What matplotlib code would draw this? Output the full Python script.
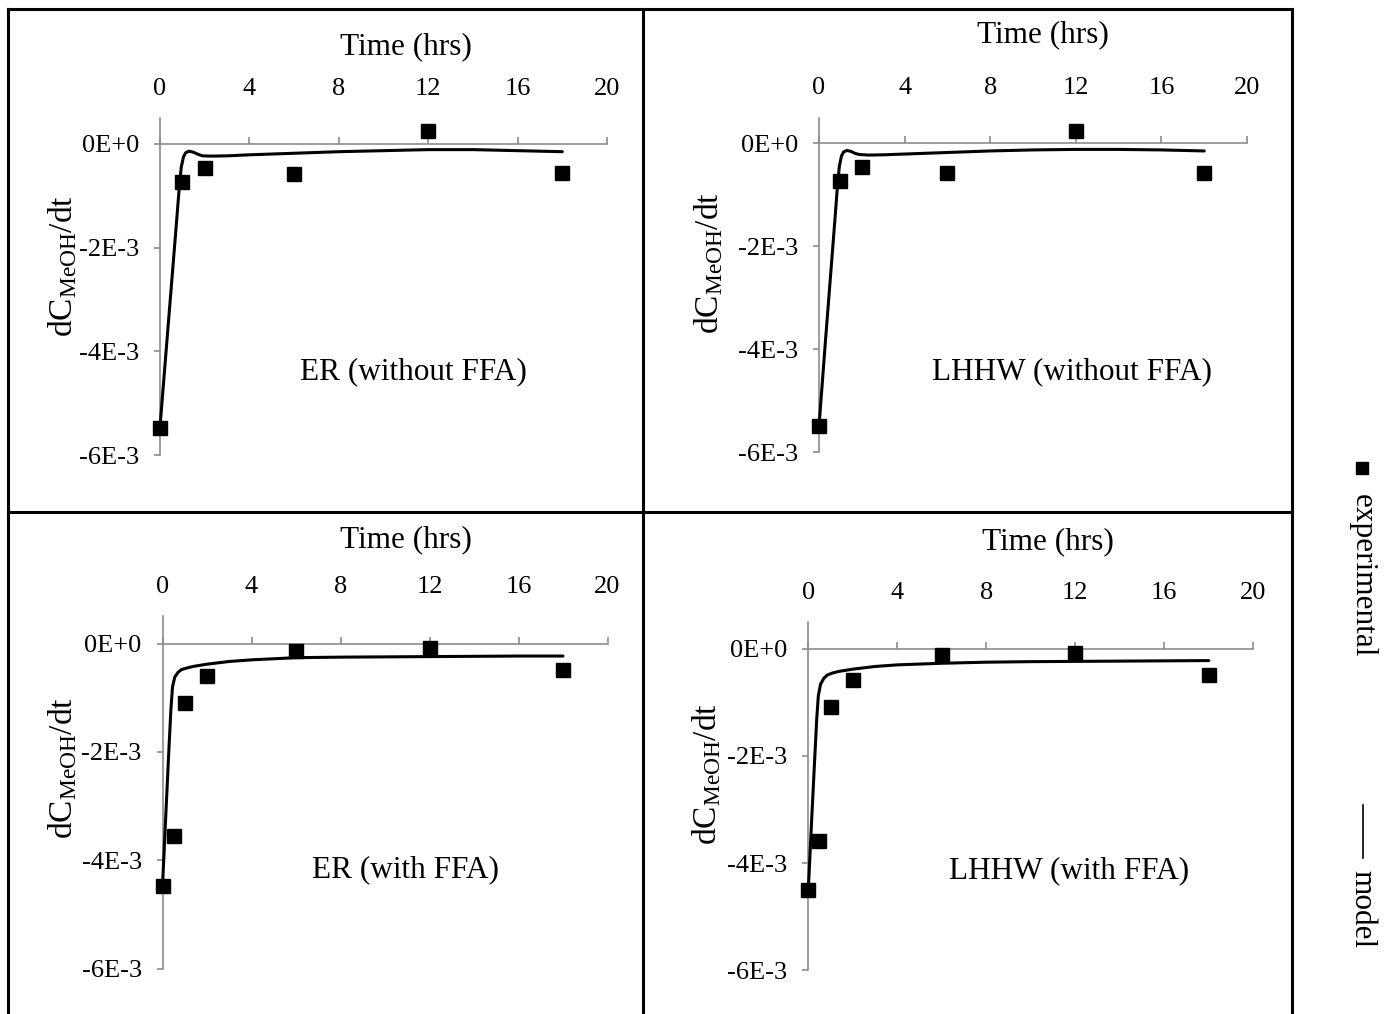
import matplotlib
matplotlib.use("Agg")
import matplotlib.pyplot as plt
from matplotlib.lines import Line2D

plt.rcParams["font.family"] = ["Liberation Serif", "DejaVu Serif"]
plt.rcParams["mathtext.fontset"] = "custom"
plt.rcParams["mathtext.rm"] = "Liberation Serif"
plt.rcParams["mathtext.it"] = "Liberation Serif:italic"

# === Data (rates in 1e-3 units) ===
t_nf = [0, 1, 2, 6, 12, 18]
exp_er_nf = [-5.47, -0.74, -0.47, -0.58, 0.24, -0.57]
exp_lh_nf = [-5.50, -0.73, -0.47, -0.57, 0.23, -0.57]

t_wf = [0, 0.5, 1, 2, 6, 12, 18]
exp_er_wf = [-4.48, -3.56, -1.09, -0.60, -0.13, -0.09, -0.48]
exp_lh_wf = [-4.50, -3.59, -1.09, -0.58, -0.12, -0.08, -0.49]

tm_nf = [0, 0.3, 0.6, 0.75, 0.85, 0.95, 1.05, 1.15, 1.3, 1.5, 1.7, 1.9,
         2.3, 3, 4, 6, 8, 10, 12, 14, 16, 18]
mod_er_nf = [-5.46, -3.85, -2.25, -1.45, -0.9, -0.45, -0.25, -0.17, -0.14, -0.16,
             -0.20, -0.23, -0.235, -0.23, -0.21, -0.18, -0.15, -0.13, -0.11, -0.11,
             -0.13, -0.15]
mod_lh_nf = [-5.50, -3.85, -2.25, -1.45, -0.9, -0.45, -0.25, -0.17, -0.14, -0.16,
             -0.20, -0.22, -0.23, -0.225, -0.21, -0.18, -0.15, -0.13, -0.12, -0.12,
             -0.13, -0.15]

tm_wf = [0, 0.15, 0.3, 0.38, 0.45, 0.55, 0.7, 0.85, 1.1, 1.4, 2, 3, 4, 6, 8,
         10, 12, 14, 16, 18]
mod_er_wf = [-4.48, -3.15, -1.85, -1.2, -0.8, -0.62, -0.53, -0.48, -0.45, -0.42,
             -0.38, -0.33, -0.30, -0.26, -0.25, -0.245, -0.24, -0.235, -0.23, -0.23]
mod_lh_wf = [-4.50, -3.2, -1.95, -1.3, -0.88, -0.66, -0.55, -0.49, -0.45, -0.42,
             -0.38, -0.33, -0.30, -0.27, -0.25, -0.24, -0.235, -0.23, -0.225, -0.22]

x_ticks = [0, 4, 8, 12, 16, 20]
y_ticks = [0, -2, -4, -6]
y_tick_labels = ["0E+0", "-2E-3", "-4E-3", "-6E-3"]
panel_titles = ["ER (without FFA)", "LHHW (without FFA)", "ER (with FFA)", "LHHW (with FFA)"]

W, H = 1386, 1014
AXIS_GRAY = "#8c8c8c"

fig = plt.figure(figsize=(W / 100, H / 100), dpi=100)


def fx(px):
    return px / W


def fy(py):
    return 1 - py / H


# pixel boxes: x at t=0, x at t=20, y at top, y at -6E-3
boxes = [(160, 607, 118, 455), (819, 1247, 117.5, 452),
         (162.5, 607.5, 616.5, 968.7), (808.3, 1253.3, 622, 970.3)]
series = [(t_nf, exp_er_nf, tm_nf, mod_er_nf), (t_nf, exp_lh_nf, tm_nf, mod_lh_nf),
          (t_wf, exp_er_wf, tm_wf, mod_er_wf), (t_wf, exp_lh_wf, tm_wf, mod_lh_wf)]
title_pos = [(413, 372), (1072, 372), (406, 870), (1069, 871)]
xlabel_pos = [(406, 47), (1043, 35), (406, 540), (1048, 542)]
ylabel_pos = [(63, 266), (709, 263), (63, 768), (707, 774)]

for (x0, x1, yt, yb), (te, ve, tm, vm), tp, xp, yp, ttl in zip(
        boxes, series, title_pos, xlabel_pos, ylabel_pos, panel_titles):
    ax = fig.add_axes([fx(x0), fy(yb), (x1 - x0) / W, (yb - yt) / H])
    ax.plot(tm, vm, color="black", lw=2.2, solid_capstyle="round", zorder=3,
            clip_on=False)
    ax.plot(te, ve, ls="none", marker="s", ms=10, color="black", zorder=4,
            clip_on=False)
    ax.set_xlim(0, 20)
    ax.set_ylim(-6, 0.5)
    ax.set_xticks(x_ticks)
    ax.set_yticks(y_ticks)
    ax.set_yticklabels(y_tick_labels)
    for s in ("top", "right"):
        ax.spines[s].set_visible(False)
    ax.spines["bottom"].set_position(("data", 0))
    for s in ("bottom", "left"):
        ax.spines[s].set_color(AXIS_GRAY)
        ax.spines[s].set_linewidth(1.2)
    ax.tick_params(axis="x", bottom=True, top=False, labelbottom=False, labeltop=True,
                   direction="in", length=5, width=1.2, color=AXIS_GRAY,
                   labelsize=19, pad=13)
    ax.tick_params(axis="y", direction="out", length=4, width=1.2, color=AXIS_GRAY,
                   labelsize=19, pad=11)
    ax.patch.set_alpha(0)
    fig.text(fx(tp[0]), fy(tp[1]), ttl, fontsize=22.5, ha="center", va="center")
    fig.text(fx(xp[0]), fy(xp[1]), "Time (hrs)", fontsize=22.5, ha="center", va="center")
    fig.text(fx(yp[0]), fy(yp[1]), r"dC$_{\mathrm{MeOH}}$/dt", fontsize=24,
             rotation=90, ha="center", va="center")

# table frame around the four panels
frame = [((8, 8), (9, H)), ((643, 643), (9, H)), ((1292, 1292), (9, H)),
         ((8, 1292), (9, 9)), ((8, 1292), (512, 512))]
for xs, ys in frame:
    fig.add_artist(Line2D([fx(v) for v in xs], [fy(v) for v in ys],
                          transform=fig.transFigure, color="black", lw=2.2))

# legend, written top-to-bottom
fig.add_artist(Line2D([fx(1362)], [fy(468)], transform=fig.transFigure,
                      marker="s", ms=8, color="black", ls="none"))
fig.text(fx(1362), fy(576), "experimental", fontsize=22.5, rotation=-90,
         ha="center", va="center")
fig.add_artist(Line2D([fx(1363), fx(1363)], [fy(805), fy(858)],
                      transform=fig.transFigure, color="black", lw=1.2))
fig.text(fx(1362), fy(909), "model", fontsize=22.5, rotation=-90,
         ha="center", va="center")

fig.savefig("out.png", dpi=100)
